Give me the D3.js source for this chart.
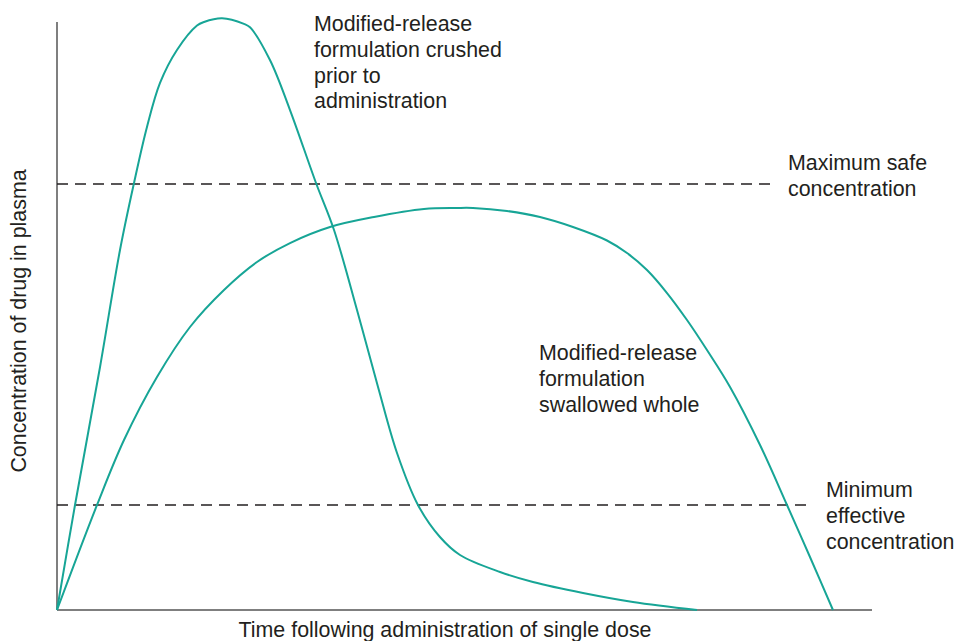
<!DOCTYPE html>
<html lang="en">
<head>
  <meta charset="UTF-8">
  <title>Plasma concentration after a single dose</title>
  <script src="https://d3js.org/d3.v7.min.js"></script>
  <style>
    html, body { margin: 0; padding: 0; background: #fff; }
    svg { display: block; }
    text { font-family: "Liberation Sans", Arial, sans-serif; fill: #231f20; }
    .note { font-size: 21.4px; }
  </style>
</head>
<body>
  <svg width="954" height="641"></svg>
  <script>
    // time (arbitrary units, 0-100) and concentration (0-100)
    const crushedTime = [0, 2.21, 5.28, 7.73, 9.45, 11.04, 12.64, 14.72, 17.18, 18.04, 20.25, 22.94, 23.68, 26.13, 28.59, 31.78, 33.99, 36.81, 39.39, 41.72, 44.29, 46.99, 49.45, 54.36, 58.40, 64.54, 70.67, 78.53];
    const crushedConc = [0, 17.86, 41.33, 61.22, 72.62, 82.14, 89.63, 95.24, 99.40, 100.0, 100.63, 99.68, 99.10, 93.54, 85.03, 72.62, 64.63, 51.02, 37.93, 26.70, 17.86, 12.41, 9.35, 6.46, 4.76, 2.89, 1.36, 0];
    const wholeTime = [0, 4.91, 8.22, 12.27, 16.32, 20.49, 24.54, 28.59, 33.50, 38.90, 45.03, 49.08, 51.04, 55.21, 59.26, 63.31, 67.48, 69.94, 72.39, 74.85, 77.30, 79.75, 82.58, 86.26, 89.57, 92.39, 95.21];
    const wholeConc = [0, 17.86, 28.91, 39.63, 48.13, 54.42, 59.18, 62.41, 65.14, 66.84, 68.20, 68.37, 68.37, 67.86, 66.84, 65.14, 62.84, 60.71, 57.82, 53.91, 49.32, 44.22, 37.93, 28.06, 17.86, 9.01, 0];
    const thresholds = [
      { name: "Maximum safe concentration", value: 72.45, end: 87.85 },
      { name: "Minimum effective concentration", value: 17.86, end: 92.39 }
    ];

    const svg = d3.select("svg");
    const x = d3.scaleLinear().domain([0, 100]).range([57, 872]);
    const y = d3.scaleLinear().domain([0, 100]).range([610, 22]);

    // axes (plain lines, no ticks)
    svg.append("line")
      .attr("x1", x(0)).attr("x2", x(0))
      .attr("y1", y(0)).attr("y2", y(100))
      .attr("stroke", "#555").attr("stroke-width", 1.5);
    svg.append("line")
      .attr("x1", x(0)).attr("x2", x(100))
      .attr("y1", y(0)).attr("y2", y(0))
      .attr("stroke", "#555").attr("stroke-width", 1.5);

    svg.selectAll(".threshold")
      .data(thresholds)
      .enter()
      .append("line")
      .attr("class", "threshold")
      .attr("x1", x(0))
      .attr("x2", d => x(d.end))
      .attr("y1", d => y(d.value))
      .attr("y2", d => y(d.value))
      .attr("stroke", "#231f20")
      .attr("stroke-width", 1.6)
      .attr("stroke-dasharray", "11,7");

    const line = d3.line()
      .x(d => x(d[0]))
      .y(d => y(d[1]))
      .curve(d3.curveCatmullRom.alpha(0.5));

    const series = [
      d3.zip(crushedTime, crushedConc),
      d3.zip(wholeTime, wholeConc)
    ];

    svg.selectAll(".curve")
      .data(series)
      .enter()
      .append("path")
      .attr("class", "curve")
      .attr("d", line)
      .attr("fill", "none")
      .attr("stroke", "#17a596")
      .attr("stroke-width", 2);

    function note(px, py, lines) {
      const t = svg.append("text").attr("class", "note");
      lines.forEach((s, i) => {
        t.append("tspan").attr("x", px).attr("y", py + i * 25.8).text(s);
      });
    }
    note(314, 31, ["Modified-release", "formulation crushed", "prior to", "administration"]);
    note(788, 170, ["Maximum safe", "concentration"]);
    note(539, 360, ["Modified-release", "formulation", "swallowed whole"]);
    note(826, 497, ["Minimum", "effective", "concentration"]);

    svg.append("text")
      .attr("class", "note")
      .attr("x", 445)
      .attr("y", 637)
      .attr("text-anchor", "middle")
      .text("Time following administration of single dose");

    svg.append("text")
      .attr("class", "note")
      .attr("transform", "rotate(-90)")
      .attr("x", -321)
      .attr("y", 26)
      .attr("text-anchor", "middle")
      .text("Concentration of drug in plasma");
  </script>
</body>
</html>
